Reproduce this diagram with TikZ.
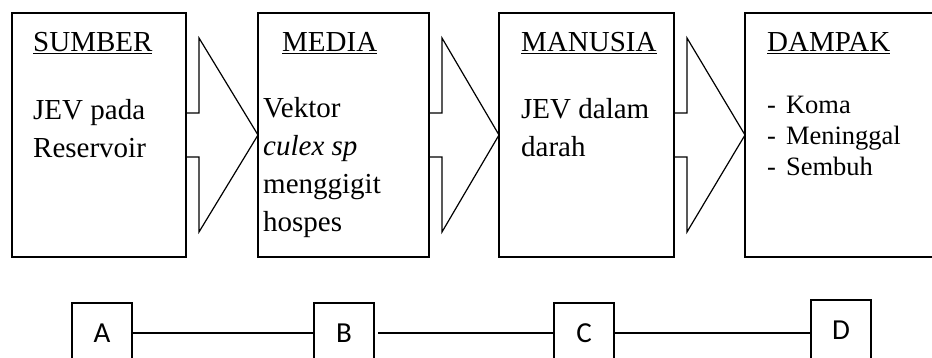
\documentclass[tikz,border=0pt]{standalone}
\usepackage{fontspec}
\setmainfont{Liberation Serif}
\newfontfamily\calibri{Carlito}
\tikzset{font={\fontsize{29pt}{38pt}\selectfont}}
\usetikzlibrary{
	calc,
	positioning
	}
\tikzstyle{kotak}=[draw,line width=1.3pt,inner sep=0pt,outer sep=0pt,minimum height=244pt]
\tikzstyle{teks}=[inner sep=0pt,align=left,anchor=base west]
\tikzstyle{kecil}=[draw,line width=1.2pt,inner sep=0pt,outer sep=0pt,minimum size=60pt,font={\calibri\fontsize{29pt}{32pt}\selectfont}]
\tikzstyle{garis}=[line width=1.2pt]
\newcommand{\panah}[2]{\draw[garis,line join=miter] ($(#1.east)+(0,22)$) -- ++(13,0) -- ++(0,75) -- (#2.west) -- ($(#1.east)+(13,-97)$) -- ++(0,75) -- ++(-13,0);}
\newcommand{\butir}[1]{-\hspace{10pt}#1}

\begin{document}
\begin{tikzpicture}[x=1pt,y=1pt]
            \useasboundingbox (0,0) rectangle (932,358);
            \clip (0,0) rectangle (932,358);
            %
            \node[kotak, minimum width=174pt, anchor=north west] (sumber) at (12,345) {};
            \node[kotak, minimum width=171pt, right=72pt of sumber] (media) {};
            \node[kotak, minimum width=175pt, right=70pt of media] (manusia) {};
            \node[kotak, minimum width=200pt, right=71pt of manusia] (dampak) {};
            %
            \panah{sumber}{media}
            \panah{media}{manusia}
            \panah{manusia}{dampak}
            %
            % base = baseline of the last line
            \node[teks] (judul1) at ($(sumber.north west)+(21,-39)$) {\underline{SUMBER}};
            \node[teks] (isi1) at ($(sumber.north west)+(21,-145)$) {JEV pada\\Reservoir};

            \node[teks] (judul2) at ($(media.north west)+(24,-39)$) {\underline{MEDIA}};
            \node[teks] (isi2) at ($(media.north west)+(5,-219)$) {Vektor\\\textit{culex sp}\\menggigit\\hospes};

            \node[teks] (judul3) at ($(manusia.north west)+(22,-39)$) {\underline{MANUSIA}};
            \node[teks] (isi3) at ($(manusia.north west)+(22,-144)$) {JEV dalam\\darah};

            \node[teks] (judul4) at ($(dampak.north west)+(22,-39)$) {\underline{DAMPAK}};
            \node[teks, font={\fontsize{26.5pt}{31pt}\selectfont}] (isi4) at ($(dampak.north west)+(22,-163)$) {\butir{Koma}\\\butir{Meninggal}\\\butir{Sembuh}};
            %
            \node[kecil] (A) at (102,25) {A};
            \node[kecil, right=182pt of A] (B) {B};
            \node[kecil, right=180pt of B] (C) {C};
            \node[kecil, right=197pt of C, yshift=3pt] (D) {D};

            \draw[garis] (A) -- (B);
            \draw[garis, shorten <=4pt] (B) -- (C);
            \draw[garis] (C.east) -- (C.east -| D.west);
\end{tikzpicture}
\end{document}
